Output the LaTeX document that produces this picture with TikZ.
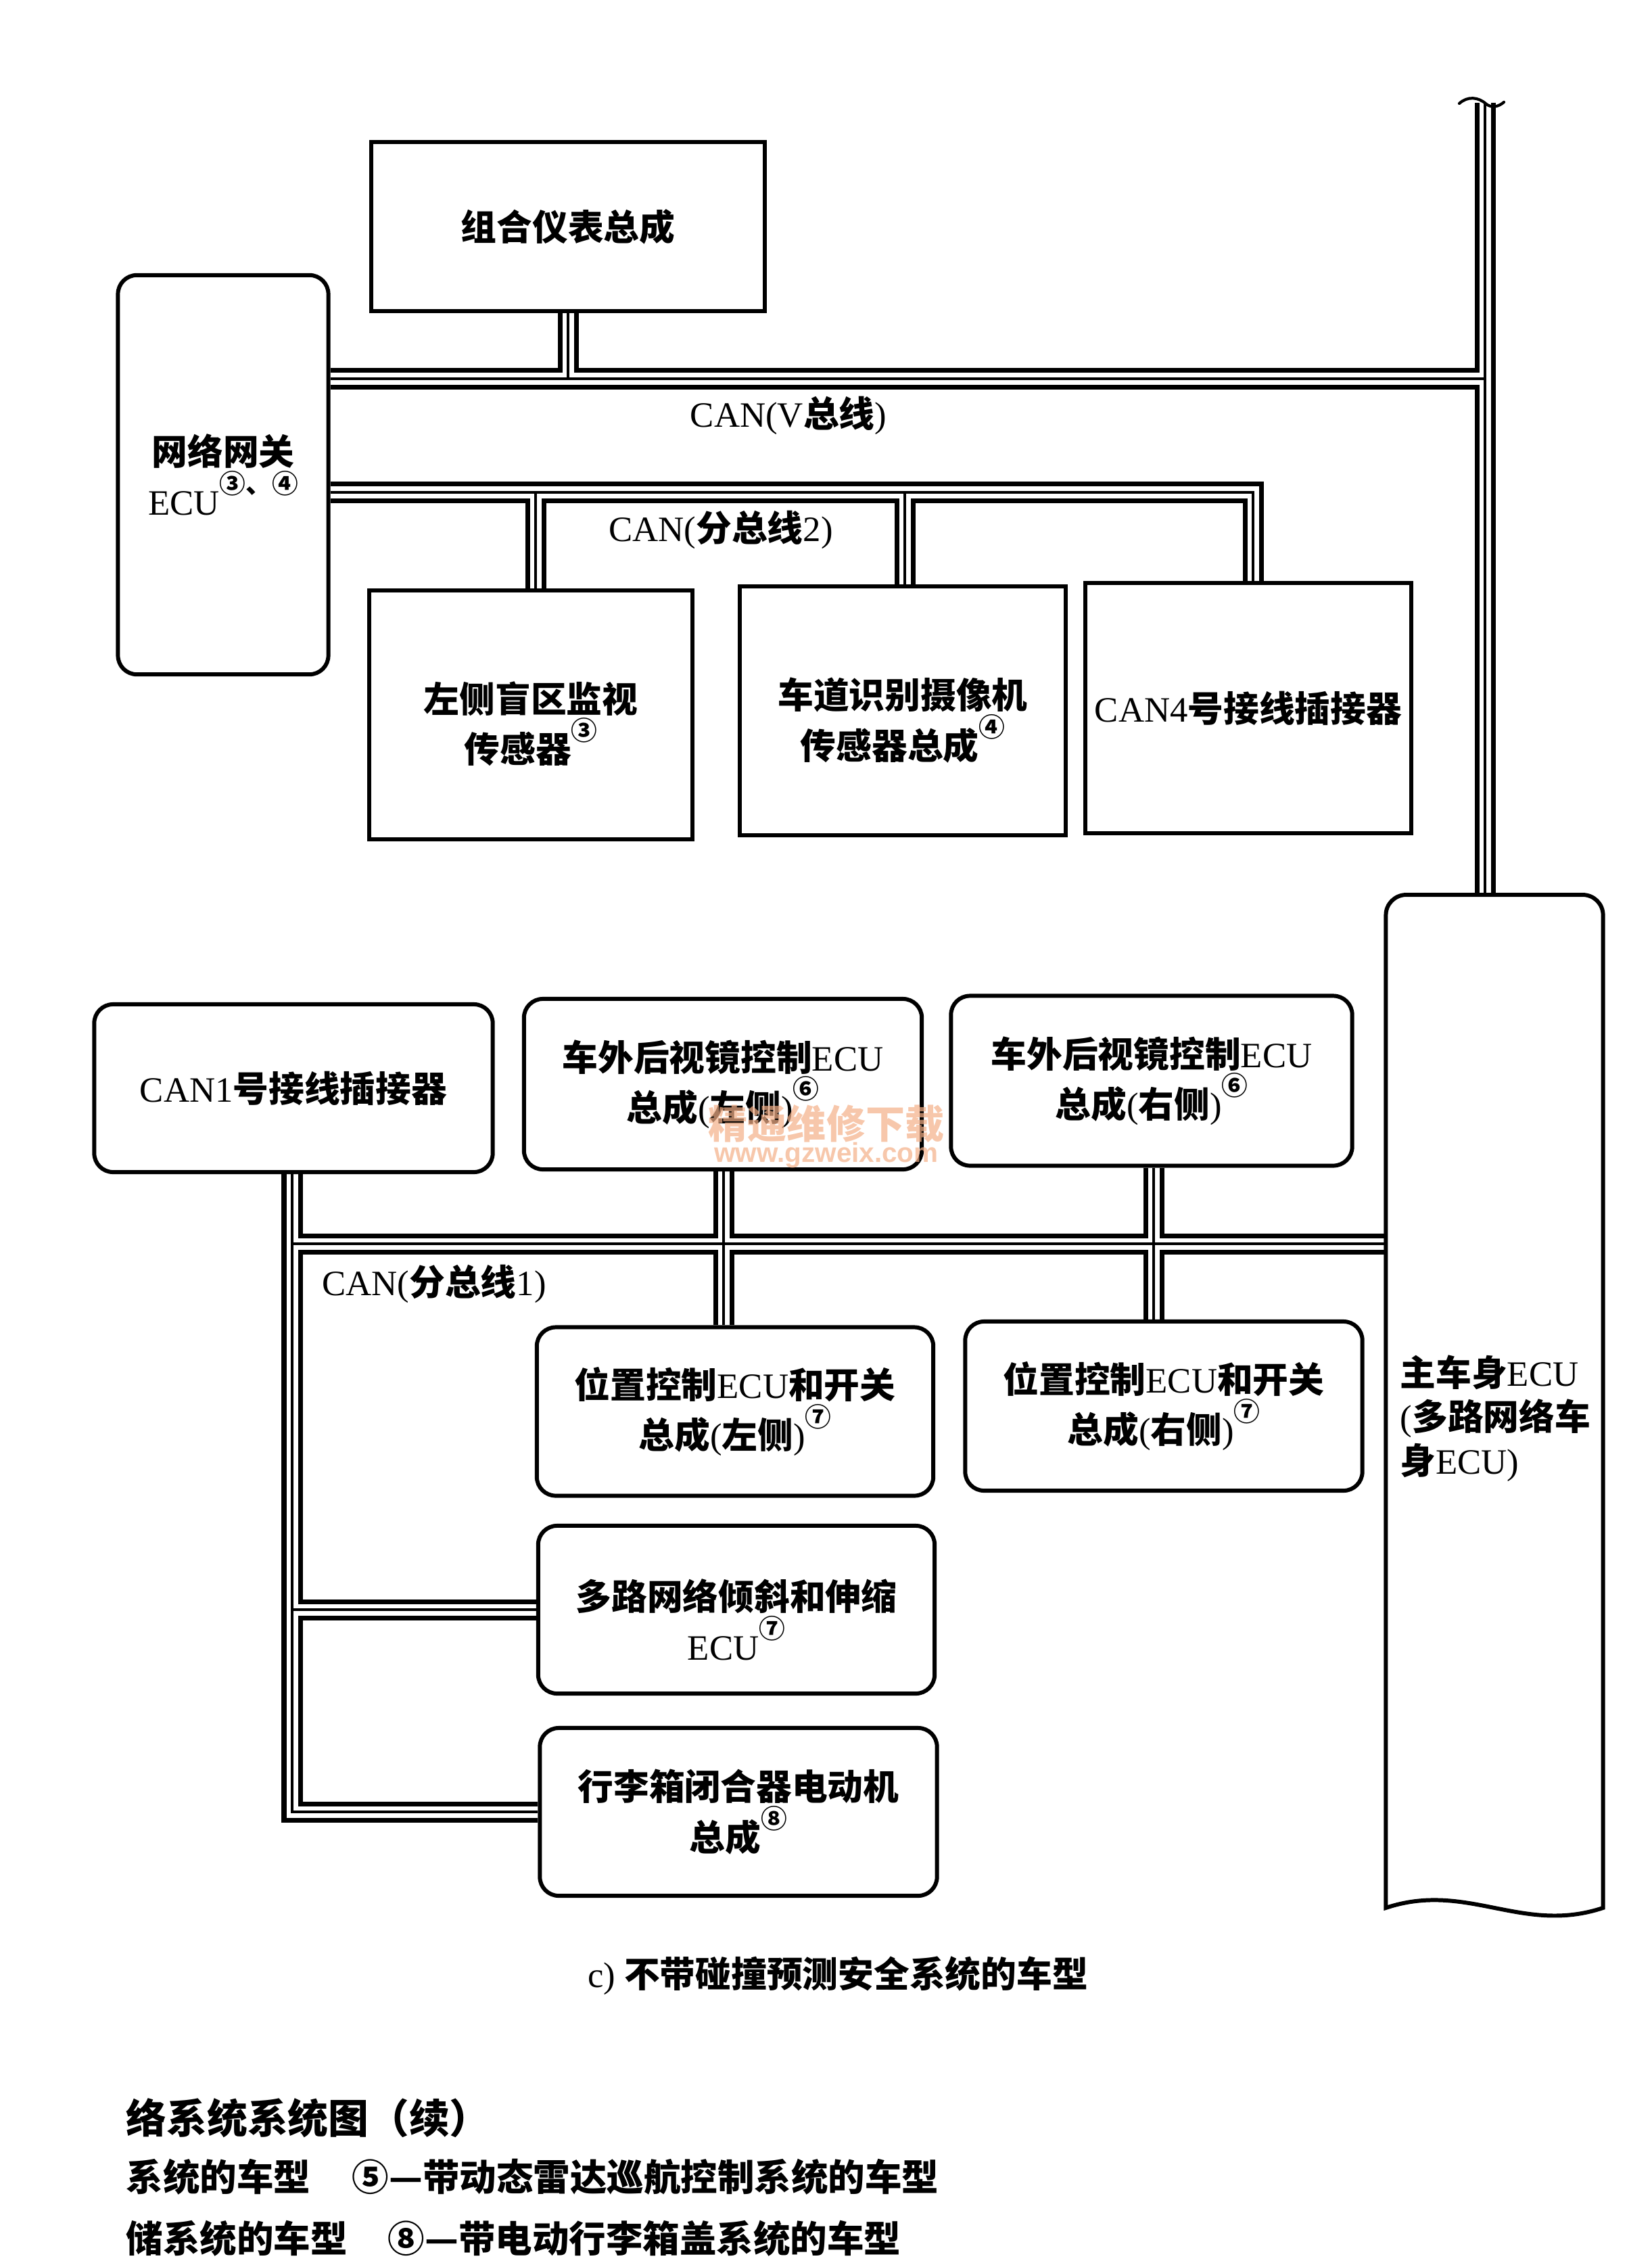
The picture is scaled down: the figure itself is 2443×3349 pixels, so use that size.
\documentclass[tikz,border=0pt]{standalone}
\usepackage{fontspec}
\setmainfont{Liberation Serif}
\newfontfamily\zhfont{Noto Sans CJK SC}
\newfontfamily\wmfont{Liberation Sans}
\usetikzlibrary{calc}
\newcommand\zh[1]{{\zhfont\bfseries #1}}
\newcommand\circsup[1]{\raisebox{0.62em}{\fontsize{11}{11}\selectfont\zhfont\bfseries #1}}
\newcommand\boxfont{\fontsize{15}{17.5}\selectfont}
\pgfdeclarelayer{paper}
\pgfdeclarelayer{bus}
\pgfsetlayers{paper,bus,main}
\definecolor{wm}{RGB}{244,176,136}
\tikzset{
  busblack/.style={line width=0.31cm,draw=black,line join=miter},
  buswhite/.style={line width=0.17cm,draw=white,line join=miter},
  busmid/.style={line width=0.04cm,draw=black,line join=miter},
  sqbox/.style={draw,line width=1.7pt,fill=white,inner sep=0pt,align=center,font=\boxfont},
  rbox/.style={sqbox,rounded corners=0.28cm},
  lbl/.style={inner sep=0pt,font=\boxfont},
  boxtxt/.style={inner sep=0pt,align=center,font=\boxfont},
  legend/.style={inner sep=0pt,anchor=west,font=\fontsize{15.5}{18}\selectfont},
  bodyline/.style={line width=1.7pt,fill=white},
}
\newcommand\busall[1]{%
  \draw[#1] (gw.east |- vR) -- (vR);
  \draw[#1] (vtop) -- (body.north -| vtop);
  \draw[#1] (cluster.south) -- (cluster.south |- vR);
  \draw[#1] (gw.east |- s2R) -- (s2R) -- (can4.north -| s2R);
  \draw[#1] (s2a) -- (bsm.north -| s2a);
  \draw[#1] (s2b) -- (lane.north -| s2b);
  \draw[#1] (s1L) -- (body.west |- s1L);
  \draw[#1] (can1.south -| s1L) -- (s1L |- trunk.west) -- (trunk.west);
  \draw[#1] (s1L |- multi.west) -- (multi.west);
  \draw[#1] (mirL.south -| s1a) -- (posL.north -| s1a);
  \draw[#1] (mirR.south -| s1b) -- (posR.north -| s1b);
}
\begin{document}
\begin{tikzpicture}[x=0.01cm,y=-0.01cm]
\useasboundingbox (0,0) rectangle (2443,3349);
\begin{pgfonlayer}{paper}
\fill[white] (0,0) rectangle (2443,3349);
\end{pgfonlayer}

% upper group
\node[sqbox,minimum width=5.82cm,minimum height=2.50cm] (cluster) at (840,335) {\zh{组合仪表总成}};
\node[rbox,minimum width=3.11cm,minimum height=5.90cm] (gw) at (330,702) {\zh{网络网关}\\ECU\circsup{③、④}};
\node[sqbox,minimum width=4.77cm,minimum height=3.68cm] (bsm) at (785,1057) {};
\node[boxtxt] (bsmtxt) at ([yshift=-0.13cm]bsm.center) {\zh{左侧盲区监视}\\\zh{传感器}\circsup{③}};
\node[sqbox,minimum width=4.81cm,minimum height=3.68cm] (lane) at (1335,1051) {};
\node[boxtxt] (lanetxt) at ([yshift=-0.14cm]lane.center) {\zh{车道识别摄像机}\\\zh{传感器总成}\circsup{④}};
\node[sqbox,minimum width=4.82cm,minimum height=3.69cm] (can4) at (1846,1047) {CAN4\zh{号接线插接器}};

% main body ECU (cut-off box)
\node[draw=none,minimum width=3.21cm,minimum height=14.97cm,inner sep=0pt,outer sep=0pt] (body) at (2210,2072) {};
\draw[bodyline] (body.east) -- (body.south east) .. controls +(-120,40) and +(120,-40) .. (body.south west) [rounded corners=0.3cm] -- (body.north west) -- (body.north east) -- (body.east);
\node[inner sep=0pt,anchor=west,align=left,font=\fontsize{15}{18.5}\selectfont] (bodytxt) at (2070,2097) {\zh{主车身}ECU\\(\zh{多路网络车}\\\zh{身}ECU)};

% lower group
\node[rbox,minimum width=5.89cm,minimum height=2.48cm] (can1) at (434,1609) {CAN1\zh{号接线插接器}};
\node[rbox,minimum width=5.88cm,minimum height=2.52cm] (mirL) at (1069,1603) {\zh{车外后视镜控制}ECU\\\zh{总成}(\zh{左侧})\circsup{⑥}};
\node[rbox,minimum width=5.93cm,minimum height=2.51cm] (mirR) at (1703,1598) {\zh{车外后视镜控制}ECU\\\zh{总成}(\zh{右侧})\circsup{⑥}};
\node[rbox,minimum width=5.86cm,minimum height=2.49cm] (posL) at (1087,2087) {\zh{位置控制}ECU\zh{和开关}\\\zh{总成}(\zh{左侧})\circsup{⑦}};
\node[rbox,minimum width=5.87cm,minimum height=2.50cm] (posR) at (1721,2079) {\zh{位置控制}ECU\zh{和开关}\\\zh{总成}(\zh{右侧})\circsup{⑦}};
\node[rbox,minimum width=5.86cm,minimum height=2.48cm] (multi) at (1089,2380) {};
\node[boxtxt] (multitxt) at ([yshift=-0.15cm]multi.center) {\zh{多路网络倾斜和伸缩}\\ECU\circsup{⑦}};
\node[rbox,minimum width=5.87cm,minimum height=2.48cm] (trunk) at (1092,2679) {\zh{行李箱闭合器电动机}\\\zh{总成}\circsup{⑧}};

% bus junction coordinates
\coordinate (vR) at (2196,560);
\coordinate (vtop) at (2196,152);
\coordinate (s2R) at (1853,728);
\coordinate (s2a) at (792,728);
\coordinate (s2b) at (1338,728);
\coordinate (s1L) at (432,1839);
\coordinate (s1a) at (1070,1839);
\coordinate (s1b) at (1706,1839);

\begin{pgfonlayer}{bus}
\busall{busblack}
\busall{buswhite}
\busall{busmid}
\end{pgfonlayer}

% break mark at the top of the main bus
\draw[line width=1.2pt,line cap=round] ($(vtop)+(-38,1)$) .. controls ($(vtop)+(-26,-10)$) and ($(vtop)+(-10,-9)$) .. ($(vtop)+(2,2)$) .. controls ($(vtop)+(10,8)$) and ($(vtop)+(20,6)$) .. ($(vtop)+(28,-1)$);

% bus labels
\node[lbl] (lblV) at (1166,614) {CAN(V\zh{总线})};
\node[lbl] (lbl2) at (1066,783) {CAN(\zh{分总线}2)};
\node[lbl] (lbl1) at (642,1898) {CAN(\zh{分总线}1)};

% watermark
\node[inner sep=0pt,text=wm,text opacity=0.7,font=\fontsize{16.5}{18}\selectfont] (wm1) at (1222,1662) {\zh{精通维修下载}};
\node[inner sep=0pt,text=wm,text opacity=0.7,font=\fontsize{11.5}{13}\selectfont\wmfont\bfseries] (wm2) at (1222,1708) {www.gzweix.com};

% caption and legend
\node[inner sep=0pt,font=\fontsize{15}{18}\selectfont] (caption) at (1239,2921) {c) \zh{不带碰撞预测安全系统的车型}};
\node[legend,font=\fontsize{17}{20}\selectfont] (leg1) at (186,3132) {\zh{络系统系统图（续）}};
\node[legend] (leg2a) at (186,3219) {\zh{系统的车型}};
\node[legend] (leg2b) at (520,3219) {\zh{⑤—带动态雷达巡航控制系统的车型}};
\node[legend] (leg3a) at (186,3310) {\zh{储系统的车型}};
\node[legend] (leg3b) at (573,3310) {\zh{⑧—带电动行李箱盖系统的车型}};
\end{tikzpicture}
\end{document}
